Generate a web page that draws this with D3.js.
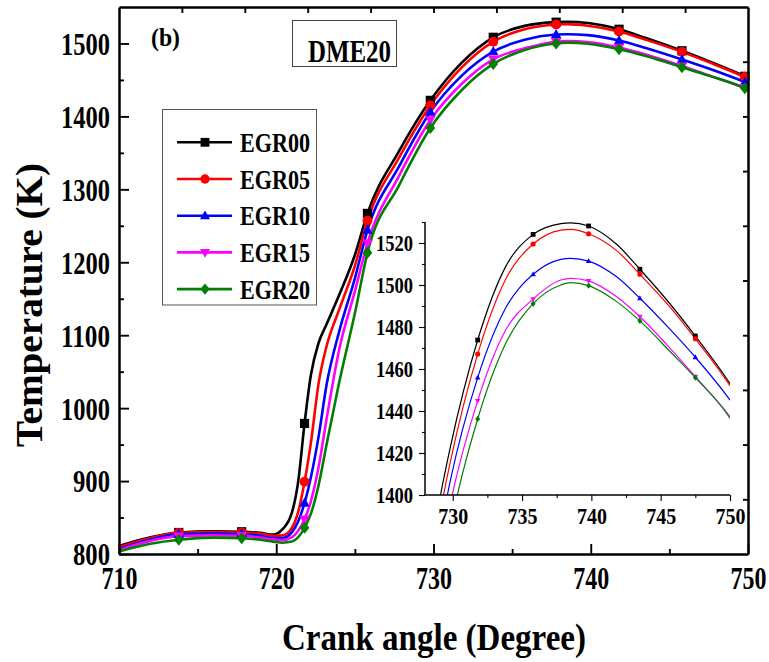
<!DOCTYPE html>
<html>
<head>
<meta charset="utf-8">
<script src="https://cdn.jsdelivr.net/npm/d3@7"></script>
<style>
  html, body { margin: 0; padding: 0; background: #fff; }
  svg { display: block; }
  text { font-family: "Liberation Serif", "Times New Roman", serif; font-weight: bold; fill: #000; }
</style>
</head>
<body>
<svg id="chart" width="769" height="662"></svg>
<script>
// Crank angle (deg) sampling shared by all series
const crankAngle = [710, 712, 713.8, 716, 717.8, 719, 719.8, 720.4, 721, 721.4, 721.8, 722.2, 722.7, 723.2, 724, 725, 725.8, 727.8, 729.8, 731.8, 733.8, 735.8, 737.8, 738.5, 739.8, 741.8, 743.5, 745.8, 747.5, 749.8, 750];

// In-cylinder temperature (K) for each EGR rate
const egr00 = [811, 823, 829.5, 831, 830.5, 829, 826.5, 834, 857, 900, 979, 1045, 1090, 1115, 1155, 1210, 1267, 1352, 1422, 1473.8, 1508.5, 1524.1, 1529.2, 1529.6, 1528.1, 1519.5, 1507.5, 1490, 1475.7, 1455, 1453];
const egr05 = [809.5, 822, 829, 830, 829.5, 828, 825, 825.5, 836, 858, 899, 952, 1035, 1085, 1135, 1195, 1257, 1343, 1415, 1467.1, 1502.5, 1519.5, 1526.1, 1526.5, 1524.4, 1516.5, 1505.1, 1488.5, 1474.4, 1454, 1452];
const egr10 = [807, 820, 827.4, 828, 827.5, 825, 822, 822, 830, 845, 870, 905, 962, 1032, 1105, 1178, 1244, 1331, 1406, 1455.9, 1488.8, 1505.1, 1512.2, 1512.7, 1511.4, 1504, 1493.7, 1478, 1465.6, 1447, 1445.2];
const egr15 = [805.5, 818, 824.5, 825.5, 825, 822.5, 820, 819, 823, 832, 847.6, 872, 920, 985, 1080, 1160, 1226, 1318, 1395, 1444.8, 1478.3, 1493.3, 1502.4, 1503.2, 1502, 1494.5, 1484.9, 1469, 1456.3, 1439, 1437.3];
const egr20 = [803.5, 814, 819.5, 822.5, 821.5, 819.5, 817, 815.5, 817, 823, 836, 855, 895, 950, 1035, 1130, 1213, 1305, 1384, 1436.2, 1471.9, 1491.1, 1500, 1501.1, 1499.7, 1492.2, 1482.9, 1467.5, 1455.9, 1438.5, 1436.5];

const seriesNames = ["EGR00", "EGR05", "EGR10", "EGR15", "EGR20"];
const seriesColors = ["#000000", "#ff0000", "#0000ff", "#ff00ff", "#008000"];
const seriesShapes = ["square", "circle", "triUp", "triDown", "diamond"];

// Angles where symbols are placed
const mainMarkerAngles = [713.8, 717.8, 721.8, 725.8, 729.8, 733.8, 737.8, 741.8, 745.8, 749.8];
const insetMarkerAngles = [731.8, 735.8, 739.8, 743.5, 747.5];

// Tick values
const mainXTicks = [710, 720, 730, 740, 750];
const mainXMinor = [715, 725, 735, 745];
const mainYTicks = [800, 900, 1000, 1100, 1200, 1300, 1400, 1500];
const mainYMinor = [850, 950, 1050, 1150, 1250, 1350, 1450];
const topTicks = [714, 718, 722, 726, 730, 734, 738, 742, 746];
const rightTicks = [875, 950, 1025, 1100, 1175, 1250, 1325, 1400, 1475];
const insetXTicks = [730, 735, 740, 745, 750];
const insetXMinor = [732.5, 737.5, 742.5, 747.5];
const insetYTicks = [1400, 1420, 1440, 1460, 1480, 1500, 1520];
const insetYMinor = [1410, 1430, 1450, 1470, 1490, 1510, 1530];

const seriesValues = [egr00, egr05, egr10, egr15, egr20];
const series = seriesNames.map((name, i) => ({
  name, color: seriesColors[i], shape: seriesShapes[i],
  points: crankAngle.map((a, j) => ({ a, t: seriesValues[i][j] }))
}));

const svg = d3.select("#chart");
const fmt = d3.format("d");

// ---------- main panel ----------
const M = { left: 119, right: 748, top: 7, bottom: 554 };
const x = d3.scaleLinear().domain([710, 750]).range([M.left, M.right]);
const y = d3.scaleLinear().domain([800, 1550]).range([M.bottom, M.top]);

function markerPath(shape, s) {
  switch (shape) {
    case "square": return `M${-s},${-s}h${2 * s}v${2 * s}h${-2 * s}Z`;
    case "circle": return d3.symbol(d3.symbolCircle, Math.PI * s * s * 1.15)();
    case "triUp": return `M0,${-s * 1.2}L${s * 1.15},${s * 0.8}L${-s * 1.15},${s * 0.8}Z`;
    case "triDown": return `M0,${s * 1.2}L${s * 1.15},${-s * 0.8}L${-s * 1.15},${-s * 0.8}Z`;
    case "diamond": return `M0,${-s * 1.3}L${s * 1.05},0L0,${s * 1.3}L${-s * 1.05},0Z`;
  }
}

function styleAxis(g, width) {
  g.select(".domain").attr("stroke", "#000").attr("stroke-width", width);
  g.selectAll(".tick line").attr("stroke", "#000").attr("stroke-width", width * 0.75);
}

const lineMain = d3.line().x(d => x(d.a)).y(d => y(d.t)).curve(d3.curveMonotoneX);

const gMain = svg.append("g");
series.forEach(s => {
  gMain.append("path").datum(s.points)
    .attr("fill", "none").attr("stroke", s.color).attr("stroke-width", 2.6)
    .attr("stroke-linejoin", "round").attr("d", lineMain);
});
series.forEach(s => {
  gMain.selectAll(null)
    .data(s.points.filter(p => mainMarkerAngles.includes(p.a)))
    .join("path")
    .attr("transform", d => `translate(${x(d.a)},${y(d.t)})`)
    .attr("d", markerPath(s.shape, 4.6))
    .attr("fill", s.color);
});

// frame axes with inward ticks
const fontTick = 32;
const gx = svg.append("g").attr("transform", `translate(0,${M.bottom})`)
  .call(d3.axisBottom(x).tickValues(mainXTicks).tickFormat(fmt).tickSize(-10).tickSizeOuter(0).tickPadding(12));
styleAxis(gx, 2.5);
gx.selectAll("text").attr("font-size", fontTick).attr("dy", "0.71em")
  .attr("textLength", 36).attr("lengthAdjust", "spacingAndGlyphs").attr("fill", "#000")
  .attr("font-family", null);
svg.append("g").attr("transform", `translate(0,${M.bottom})`)
  .call(d3.axisBottom(x).tickValues(mainXMinor).tickSize(-5).tickSizeOuter(0).tickFormat(""))
  .call(g => styleAxis(g, 2.5)).select(".domain").remove();

const gy = svg.append("g").attr("transform", `translate(${M.left},0)`)
  .call(d3.axisLeft(y).tickValues(mainYTicks).tickFormat(fmt).tickSize(-10).tickSizeOuter(0).tickPadding(9));
styleAxis(gy, 2.5);
gy.selectAll("text").attr("font-size", fontTick)
  .attr("textLength", d => (String(d).length === 4 ? 49 : 37))
  .attr("lengthAdjust", "spacingAndGlyphs").attr("fill", "#000").attr("font-family", null)
  .attr("dy", "0.34em");
svg.append("g").attr("transform", `translate(${M.left},0)`)
  .call(d3.axisLeft(y).tickValues(mainYMinor).tickSize(-5).tickSizeOuter(0).tickFormat(""))
  .call(g => styleAxis(g, 2.5)).select(".domain").remove();

const gTop = svg.append("g").attr("transform", `translate(0,${M.top})`)
  .call(d3.axisTop(x).tickValues(topTicks).tickSize(-6).tickSizeOuter(0).tickFormat(""));
styleAxis(gTop, 2.5);
const gRight = svg.append("g").attr("transform", `translate(${M.right},0)`)
  .call(d3.axisRight(y).tickValues(rightTicks).tickSize(-5).tickSizeOuter(0).tickFormat(""));
styleAxis(gRight, 2.5);

// axis titles
svg.append("text").attr("x", 434).attr("y", 650).attr("text-anchor", "middle")
  .attr("font-size", 37).attr("textLength", 304).attr("lengthAdjust", "spacingAndGlyphs")
  .text("Crank angle (Degree)");
svg.append("text").attr("transform", "translate(42,305) rotate(-90)").attr("text-anchor", "middle")
  .attr("font-size", 38).attr("textLength", 284).attr("lengthAdjust", "spacingAndGlyphs")
  .text("Temperature (K)");

// panel tag and fuel label
svg.append("text").attr("x", 151).attr("y", 46).attr("font-size", 25)
  .attr("textLength", 29).attr("lengthAdjust", "spacingAndGlyphs").text("(b)");
svg.append("rect").attr("x", 292.5).attr("y", 20.5).attr("width", 104).attr("height", 46)
  .attr("fill", "#fff").attr("stroke", "#444").attr("stroke-width", 1);
svg.append("text").attr("x", 308).attr("y", 62).attr("font-size", 31)
  .attr("textLength", 83).attr("lengthAdjust", "spacingAndGlyphs").text("DME20");

// legend
const gLeg = svg.append("g");
gLeg.append("rect").attr("x", 162.5).attr("y", 109.5).attr("width", 154).attr("height", 195.5)
  .attr("fill", "#fff").attr("stroke", "#555").attr("stroke-width", 1);
series.forEach((s, i) => {
  const cy = 142.3 + i * 36.7;
  gLeg.append("line").attr("x1", 177).attr("x2", 232).attr("y1", cy).attr("y2", cy)
    .attr("stroke", s.color).attr("stroke-width", 2.6);
  gLeg.append("path").attr("transform", `translate(205,${cy})`)
    .attr("d", markerPath(s.shape, 4.4)).attr("fill", s.color);
  gLeg.append("text").attr("x", 240).attr("y", cy + 9.5).attr("font-size", 27.5)
    .attr("textLength", 70).attr("lengthAdjust", "spacingAndGlyphs").text(s.name);
});

// ---------- inset (zoom on the peak) ----------
const I = { left: 425, right: 730, top: 222, bottom: 495 };
const xi = d3.scaleLinear().domain([728, 750]).range([I.left, I.right]);
const yi = d3.scaleLinear().domain([1400, 1530]).range([I.bottom, I.top]);
const lineInset = d3.line().x(d => xi(d.a)).y(d => yi(d.t)).curve(d3.curveMonotoneX);

svg.append("clipPath").attr("id", "insetClip").append("rect")
  .attr("x", I.left).attr("y", I.top - 1).attr("width", I.right - I.left).attr("height", I.bottom - I.top + 1);

const gIn = svg.append("g");
const gInLines = gIn.append("g").attr("clip-path", "url(#insetClip)");
series.forEach(s => {
  gInLines.append("path").datum(s.points)
    .attr("fill", "none").attr("stroke", s.color).attr("stroke-width", 1.2).attr("d", lineInset);
});
series.forEach(s => {
  gIn.selectAll(null)
    .data(s.points.filter(p => insetMarkerAngles.includes(p.a)))
    .join("path")
    .attr("transform", d => `translate(${xi(d.a)},${yi(d.t)})`)
    .attr("d", markerPath(s.shape, 2.4))
    .attr("fill", s.color);
});

const fontInset = 23;
const gxi = gIn.append("g").attr("transform", `translate(0,${I.bottom})`)
  .call(d3.axisBottom(xi).tickValues(insetXTicks).tickFormat(fmt).tickSize(6).tickSizeOuter(0).tickPadding(7));
gxi.select(".domain").attr("d", `M${I.left},0H${I.right}`);
styleAxis(gxi, 1.5);
gxi.selectAll("text").attr("font-size", fontInset).attr("dy", "0.71em")
  .attr("textLength", 30).attr("lengthAdjust", "spacingAndGlyphs").attr("fill", "#000").attr("font-family", null);
gIn.append("g").attr("transform", `translate(0,${I.bottom})`)
  .call(d3.axisBottom(xi).tickValues(insetXMinor).tickSize(3).tickSizeOuter(0).tickFormat(""))
  .call(g => styleAxis(g, 1.5)).select(".domain").remove();

const gyi = gIn.append("g").attr("transform", `translate(${I.left},0)`)
  .call(d3.axisLeft(yi).tickValues(insetYTicks).tickFormat(fmt).tickSize(6).tickSizeOuter(0).tickPadding(6));
gyi.select(".domain").attr("d", `M0,${I.top}V${I.bottom}`);
styleAxis(gyi, 1.5);
gyi.selectAll("text").attr("font-size", fontInset).attr("dy", "0.34em")
  .attr("textLength", 37).attr("lengthAdjust", "spacingAndGlyphs").attr("fill", "#000").attr("font-family", null);
gIn.append("g").attr("transform", `translate(${I.left},0)`)
  .call(d3.axisLeft(yi).tickValues(insetYMinor).tickSize(3).tickSizeOuter(0).tickFormat(""))
  .call(g => styleAxis(g, 1.5)).select(".domain").remove();
</script>
</body>
</html>
